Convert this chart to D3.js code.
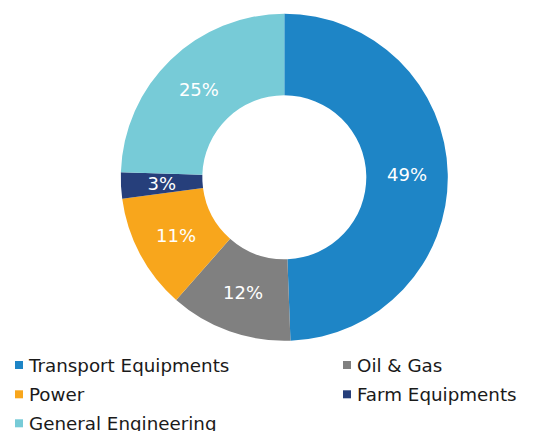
<!DOCTYPE html>
<html><head><meta charset="utf-8">
<script src="https://cdn.jsdelivr.net/npm/d3@7"></script>
<style>body{margin:0;background:#fff}svg{display:block}</style>
</head><body>
<script>
const categories = ["Transport Equipments","Oil & Gas","Power","Farm Equipments","General Engineering"];
const values = [49.4,12.1,11.4,2.6,24.5];
const labels = ["49%","12%","11%","3%","25%"];
const colors = ["#1e85c6","#808080","#f8a61c","#263f7b","#77cbd7"];

const W=533,H=431, cx=284.3, cy=177.3, R=163.5, r=82;
const FONT="DejaVu Sans, Verdana, sans-serif";
const svg=d3.select("body").append("svg").attr("width",W).attr("height",H);
const data=categories.map((c,i)=>({c,v:values[i],l:labels[i],col:colors[i]}));
const pie=d3.pie().value(d=>d.v).sort(null);
const arc=d3.arc().innerRadius(r).outerRadius(R);
const g=svg.append("g").attr("transform",`translate(${cx},${cy})`);
const arcs=pie(data);
g.selectAll("path").data(arcs).join("path").attr("d",arc).attr("fill",d=>d.data.col);
g.selectAll("text").data(arcs).join("text")
 .attr("transform",d=>`translate(${arc.centroid(d)})`)
 .attr("text-anchor","middle").attr("dy","0.36em")
 .attr("fill","#fff").attr("font-family",FONT).attr("font-size",18)
 .text(d=>d.data.l);

const lg=svg.append("g");
const pos=[[15,371.7],[343,371.7],[15,401],[343,401],[15,430]];
data.forEach((d,i)=>{
  const [x,y]=pos[i];
  lg.append("rect").attr("x",x).attr("y",y-10.7).attr("width",8).attr("height",8).attr("fill",d.col);
  lg.append("text").attr("x",x+14).attr("y",y)
   .attr("font-family",FONT).attr("font-size",18.3).attr("fill","#1a1a1a").text(d.c);
});
</script>
</body></html>
